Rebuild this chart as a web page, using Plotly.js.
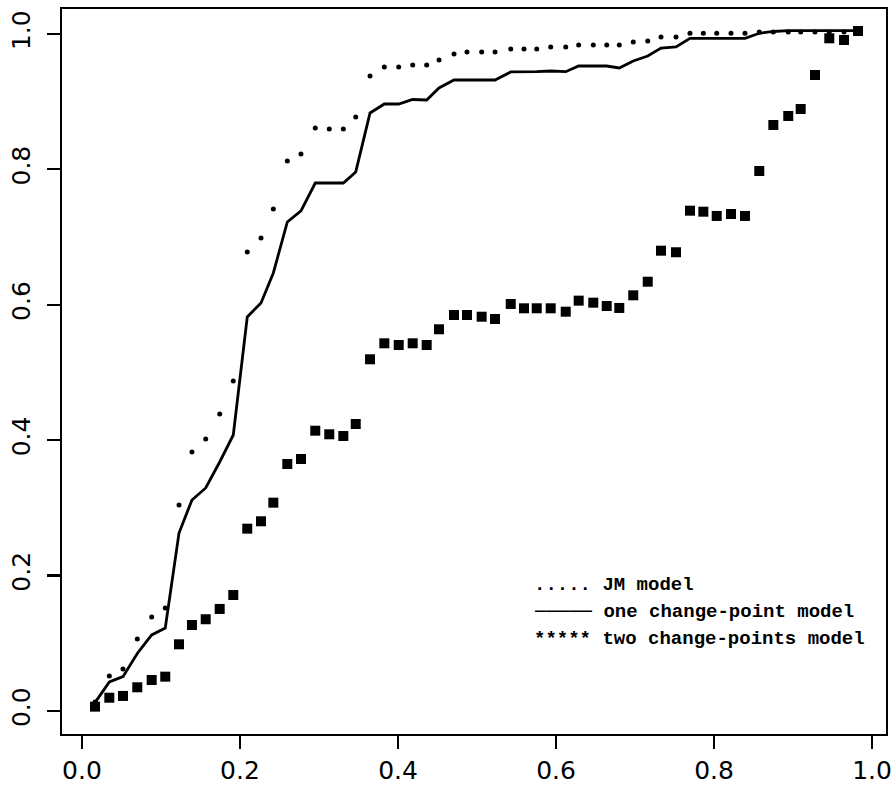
<!DOCTYPE html>
<html>
<head>
<meta charset="utf-8">
<script src="https://cdn.plot.ly/plotly-3.0.1.min.js"></script>
<style>
  html, body { margin: 0; padding: 0; background: #ffffff; }
  #chart { width: 895px; height: 787px; }
</style>
</head>
<body>
<div id="chart"></div>
<script>
// Common x positions of the plotted points
const xVals = [
  0.0165,0.0346,0.0519,0.0700,0.0882,0.1054,0.1228,0.1392,0.1566,0.1743,
  0.1915,0.2092,0.2266,0.2422,0.2599,0.2772,0.2953,0.3130,0.3308,0.3465,
  0.3646,0.3827,0.4009,0.4186,0.4363,0.4519,0.4709,0.4873,0.5059,0.5228,
  0.5427,0.5595,0.5756,0.5933,0.6123,0.6287,0.6472,0.6642,0.6801,0.6978,
  0.7161,0.7329,0.7519,0.7696,0.7865,0.8034,0.8215,0.8392,0.8573,0.8751,
  0.8940,0.9097,0.9278,0.9459,0.9646,0.9823
];

// JM model (dotted)
const jmVals = [
  0.0133,0.0517,0.0620,0.1064,0.1388,0.1521,0.3043,0.3826,0.4018,0.4387,
  0.4874,0.6780,0.6987,0.7415,0.8124,0.8227,0.8612,0.8597,0.8597,0.8774,
  0.9380,0.9513,0.9513,0.9542,0.9542,0.9616,0.9705,0.9734,0.9734,0.9734,
  0.9778,0.9778,0.9778,0.9808,0.9808,0.9838,0.9838,0.9838,0.9838,0.9882,
  0.9897,0.9956,0.9956,1.0010,1.0010,1.0010,1.0010,1.0010,1.0030,1.0030,
  1.0030,1.0030,1.0030,1.0030,1.0030,1.0030
];

// one change-point model (solid line)
const oneCpVals = [
  0.0123,0.0428,0.0507,0.0850,0.1123,0.1226,0.2629,0.3117,0.3294,0.3678,
  0.4077,0.5820,0.6027,0.6470,0.7223,0.7386,0.7799,0.7799,0.7799,0.7962,
  0.8833,0.8966,0.8966,0.9032,0.9025,0.9202,0.9320,0.9320,0.9320,0.9320,
  0.9439,0.9439,0.9443,0.9453,0.9443,0.9527,0.9527,0.9527,0.9498,0.9601,
  0.9675,0.9793,0.9808,0.9936,0.9936,0.9936,0.9936,0.9936,1.0010,1.0037,
  1.0049,1.0049,1.0049,1.0049,1.0049,1.0049
];

// two change-points model (square markers)
const twoCpVals = [
  0.0064,0.0196,0.0222,0.0350,0.0458,0.0507,0.0985,0.1270,0.1355,0.1507,
  0.1713,0.2693,0.2802,0.3077,0.3648,0.3722,0.4140,0.4087,0.4062,0.4239,
  0.5195,0.5431,0.5406,0.5431,0.5406,0.5638,0.5849,0.5849,0.5824,0.5790,
  0.6012,0.5948,0.5948,0.5948,0.5898,0.6061,0.6031,0.5982,0.5953,0.6140,
  0.6341,0.6799,0.6776,0.7390,0.7375,0.7312,0.7341,0.7312,0.7976,0.8656,
  0.8789,0.8892,0.9394,0.9936,0.9911,1.0044
];

const tickVals = [0, 0.2, 0.4, 0.6, 0.8, 1.0];
const tickText = ['0.0', '0.2', '0.4', '0.6', '0.8', '1.0'];

const legendSymbols = ['.....', '\u2500\u2500\u2500\u2500\u2500', '*****'];
const legendLabels = ['JM model', 'one change-point model', 'two change-points model'];
const legendY = [0.186, 0.1455, 0.107];
const legendX = 0.5696;

const traces = [
  {
    x: xVals, y: jmVals, type: 'scatter', mode: 'markers', name: 'JM model',
    marker: { symbol: 'circle', size: 5, color: '#000000' }
  },
  {
    x: xVals, y: oneCpVals, type: 'scatter', mode: 'lines', name: 'one change-point model',
    line: { color: '#000000', width: 2.8 }
  },
  {
    x: xVals, y: twoCpVals, type: 'scatter', mode: 'markers', name: 'two change-points model',
    marker: { symbol: 'square', size: 10, color: '#000000' }
  }
];

const axisCommon = {
  tickvals: tickVals,
  ticktext: tickText,
  ticks: 'outside',
  ticklen: 13,
  tickwidth: 2.2,
  tickcolor: '#000000',
  showline: true,
  linewidth: 2.2,
  linecolor: '#000000',
  mirror: true,
  showgrid: false,
  zeroline: false,
  tickfont: { family: 'DejaVu Sans', size: 25, color: '#000000' }
};

const annotations = legendLabels.map((lab, i) => ({
  xref: 'x', yref: 'y',
  x: legendX, y: legendY[i],
  xanchor: 'left', yanchor: 'middle',
  showarrow: false,
  text: legendSymbols[i] + ' ' + lab,
  font: { family: 'Liberation Mono, DejaVu Sans Mono, monospace', size: 19, color: '#000000', weight: 'bold' }
}));

const layout = {
  width: 895,
  height: 787,
  margin: { l: 62, r: 9, t: 9, b: 53, pad: 0 },
  paper_bgcolor: '#ffffff',
  plot_bgcolor: '#ffffff',
  showlegend: false,
  xaxis: Object.assign({}, axisCommon, { range: [-0.0253, 1.0177] }),
  yaxis: Object.assign({}, axisCommon, { range: [-0.034, 1.0369], tickangle: -90, ticklabelstandoff: 7 }),
  annotations: annotations
};

Plotly.newPlot('chart', traces, layout, { displayModeBar: false, staticPlot: true });
</script>
</body>
</html>
